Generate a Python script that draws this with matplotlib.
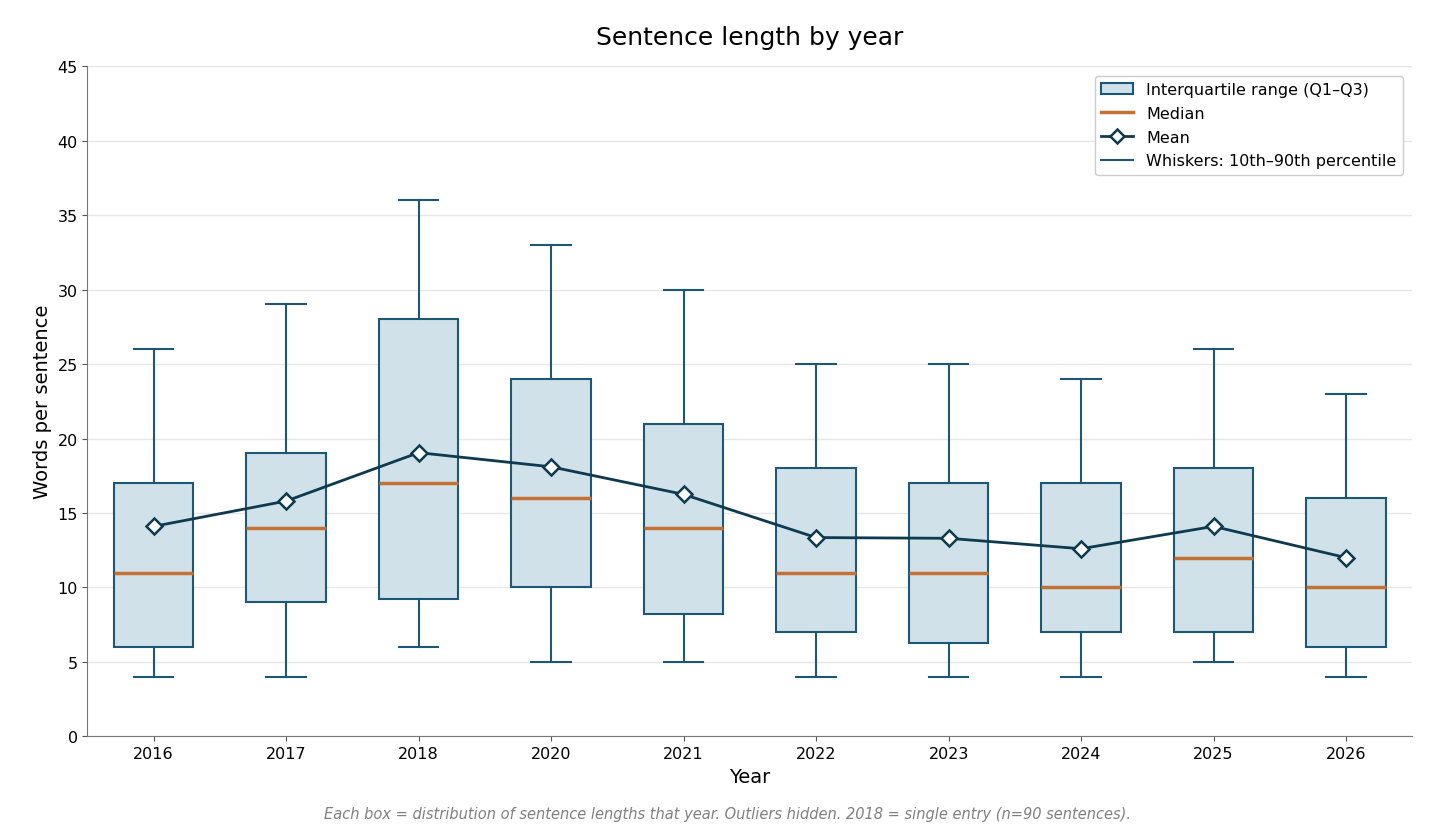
import matplotlib
matplotlib.use("Agg")
import matplotlib.pyplot as plt
from matplotlib.patches import Patch
from matplotlib.lines import Line2D

# Data
years   = ["2016", "2017", "2018", "2020", "2021", "2022", "2023", "2024", "2025", "2026"]
p10     = [4, 4, 6, 5, 5, 4, 4, 4, 5, 4]
q1      = [6, 9, 9.25, 10, 8.25, 7, 6.25, 7, 7, 6]
medians = [11, 14, 17, 16, 14, 11, 11, 10, 12, 10]
q3      = [17, 19, 28, 24, 21, 18, 17, 17, 18, 16]
p90     = [26, 29, 36, 33, 30, 25, 25, 24, 26, 23]
means   = [14.1, 15.8, 19.05, 18.1, 16.25, 13.35, 13.3, 12.6, 14.1, 12.0]

BOX_FILL = "#d0e1ea"
BOX_EDGE = "#1c5776"
MEDIAN_C = "#c47136"
MEAN_C   = "#0e3a50"

fig = plt.figure(figsize=(14.56, 8.29), dpi=100)
ax = fig.add_axes([0.06, 0.1105, 0.91, 0.8085])

stats = []
for i, y in enumerate(years):
    stats.append(dict(label=y, whislo=p10[i], q1=q1[i], med=medians[i],
                      q3=q3[i], whishi=p90[i], fliers=[]))

pos = list(range(len(years)))
ax.bxp(stats, positions=pos, widths=0.6, patch_artist=True, showfliers=False,
       boxprops=dict(facecolor=BOX_FILL, edgecolor=BOX_EDGE, linewidth=1.5),
       medianprops=dict(color=MEDIAN_C, linewidth=2.5),
       whiskerprops=dict(color=BOX_EDGE, linewidth=1.5),
       capprops=dict(color=BOX_EDGE, linewidth=1.5),
       capwidths=0.3, zorder=2)

ax.plot(pos, means, color=MEAN_C, linewidth=2, marker="D", markersize=8,
        markerfacecolor="white", markeredgecolor=MEAN_C, markeredgewidth=1.8,
        zorder=4)

ax.set_xlim(-0.5, len(years) - 0.5)
ax.set_ylim(0, 45)
ax.set_yticks(range(0, 46, 5))
ax.set_xticks(pos)
ax.set_xticklabels(years)
ax.tick_params(labelsize=11.5, color="#555555")
ax.yaxis.grid(True, color="#e6e6e6", linewidth=1)
ax.set_axisbelow(True)
for s in ["top", "right"]:
    ax.spines[s].set_visible(False)
for s in ["left", "bottom"]:
    ax.spines[s].set_color("#777777")

ax.set_title("Sentence length by year", fontsize=18, pad=16)
ax.set_xlabel("Year", fontsize=14)
ax.set_ylabel("Words per sentence", fontsize=14)

handles = [
    Patch(facecolor=BOX_FILL, edgecolor=BOX_EDGE, linewidth=1.5, label="Interquartile range (Q1–Q3)"),
    Line2D([], [], color=MEDIAN_C, linewidth=2.5, label="Median"),
    Line2D([], [], color=MEAN_C, linewidth=2, marker="D", markersize=7,
           markerfacecolor="white", markeredgecolor=MEAN_C, markeredgewidth=1.8, label="Mean"),
    Line2D([], [], color=BOX_EDGE, linewidth=1.5, label="Whiskers: 10th–90th percentile"),
]
ax.legend(handles=handles, loc="upper right", fontsize=11.5, frameon=True,
          edgecolor="#cccccc", framealpha=1, borderaxespad=0.6, labelspacing=0.55)

fig.text(0.5, 0.012, "Each box = distribution of sentence lengths that year. Outliers hidden. "
         "2018 = single entry (n=90 sentences).", ha="center", fontsize=10.5,
         style="italic", color="#808080")

fig.savefig("out.png", dpi=100)
